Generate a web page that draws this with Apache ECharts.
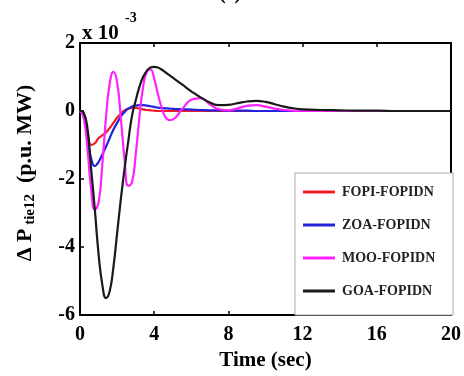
<!DOCTYPE html>
<html>
<head>
<meta charset="utf-8">
<script src="https://cdn.jsdelivr.net/npm/echarts@6/dist/echarts.min.js"></script>
<style>html,body{margin:0;padding:0;background:#fff;}#c{width:464px;height:376px;}</style>
</head>
<body>
<div id="c"></div>
<script>
// time (sec)
var time = [0,0.2,0.4,0.6,0.8,1.0,1.2,1.4,1.6,1.8,2.0,2.2,2.4,2.6,2.8,3.0,3.2,3.4,3.6,3.8,4.0,4.2,4.4,4.6,4.8,5.0,5.5,6.0,6.5,7.0,7.5,8.0,8.5,9.0,9.5,10,10.5,11,11.5,12,13,14,15,16,17,18,19,20];
// Delta P_tie12 in units of 1e-3 p.u. MW
var fopi = [0,-0.1,-0.6,-1.0,-0.95,-0.8,-0.72,-0.63,-0.5,-0.35,-0.2,-0.08,0.02,0.07,0.09,0.09,0.07,0.05,0.03,0.02,0.01,0,0,0,0,0,0,0,0,0,0,0,0,0,0,0,0,0,0,0,0,0,0,0,0,0,0,0];
var zoa = [0,-0.15,-0.8,-1.4,-1.62,-1.5,-1.28,-1.05,-0.8,-0.55,-0.35,-0.17,-0.03,0.07,0.13,0.16,0.17,0.17,0.16,0.14,0.12,0.1,0.09,0.08,0.07,0.06,0.05,0.04,0.03,0.02,0.02,0.01,0.01,0.01,0,0,0,0,0,0,0,0,0,0,0,0,0,0];
var moo = [0,-0.2,-1.1,-2.3,-2.9,-2.7,-1.6,-0.2,0.8,1.15,0.85,-0.2,-1.4,-2.2,-2.1,-1.3,-0.2,0.7,1.15,1.22,0.95,0.5,0.1,-0.18,-0.27,-0.25,0.05,0.33,0.38,0.2,0.05,0.02,0.08,0.15,0.17,0.13,0.07,0.03,0.01,0,0,0,0,0,0,0,0,0];
var goa = [0,-0.05,-0.5,-1.7,-2.9,-4.2,-5.1,-5.5,-5.3,-4.6,-3.6,-2.6,-1.7,-0.9,-0.15,0.3,0.7,1.0,1.18,1.28,1.3,1.28,1.22,1.14,1.06,0.98,0.78,0.58,0.4,0.25,0.17,0.18,0.23,0.28,0.3,0.27,0.2,0.13,0.08,0.05,0.03,0.02,0.01,0.01,0,0,0,0];
var seriesNames = ['FOPI-FOPIDN','ZOA-FOPIDN','MOO-FOPIDN','GOA-FOPIDN'];
var seriesColors = ['#ee1c25','#2222dd','#ff22ff','#1a1a1a'];
var seriesData = [fopi, zoa, moo, goa];

function pairs(v){ return time.map(function(t,i){ return [t, v[i]]; }); }

var FONT = 'Liberation Serif';
var chart = echarts.init(document.getElementById('c'));
var axisLine = {show:true, onZero:false, lineStyle:{color:'#000', width:2}};
var tick = {inside:true, length:4, lineStyle:{color:'#000', width:1.5}};
chart.setOption({
  animation:false,
  backgroundColor:'#fff',
  grid:{left:80, right:11, top:43, bottom:61},
  xAxis:[{
    type:'value', min:0, max:20, interval:4, position:'bottom',
    axisLine:axisLine, splitLine:{show:false}, axisTick:tick,
    axisLabel:{color:'#000', fontFamily:FONT, fontWeight:'bold', fontSize:20, margin:10},
    name:'Time (sec)', nameLocation:'middle', nameGap:31,
    nameTextStyle:{color:'#000', fontFamily:FONT, fontWeight:'bold', fontSize:21}
  },{
    type:'value', min:0, max:20, interval:4, position:'top',
    axisLine:axisLine, splitLine:{show:false}, axisTick:tick,
    axisLabel:{show:false}
  }],
  yAxis:[{
    type:'value', min:-6, max:2, interval:2, position:'left',
    axisLine:axisLine, splitLine:{show:false}, axisTick:tick,
    axisLabel:{color:'#000', fontFamily:FONT, fontWeight:'bold', fontSize:20, margin:5},
    name:'{a|\u0394 P}{s| tie12}{a|  (p.u. MW)}', nameLocation:'middle', nameGap:42,
    nameTextStyle:{color:'#000', fontFamily:FONT, fontWeight:'bold', padding:[0,0,0,12],
      rich:{
        a:{fontFamily:FONT, fontWeight:'bold', fontSize:22, color:'#000'},
        s:{fontFamily:FONT, fontWeight:'bold', fontSize:15, color:'#000', padding:[11,0,0,0]}
      }}
  },{
    type:'value', min:-6, max:2, interval:2, position:'right',
    axisLine:axisLine, splitLine:{show:false}, axisTick:tick,
    axisLabel:{show:false}
  }],
  legend:{
    orient:'vertical', left:303, top:185, padding:0, itemGap:19,
    itemWidth:32, itemHeight:3, icon:'rect',
    data:seriesNames,
    textStyle:{color:'#222', fontFamily:FONT, fontWeight:'bold', fontSize:14, padding:[0,0,0,2]}
  },
  graphic:[
    {type:'rect', shape:{x:295, y:173, width:158, height:142}, style:{fill:'#fff', stroke:'#aaa', lineWidth:1}, z:3},
    {type:'text', left:82, top:23, style:{text:'x 10', fontFamily:FONT, fontWeight:'bold', fontSize:21, fill:'#000'}, z:5},
    {type:'text', left:125, top:11, style:{text:'-3', fontFamily:FONT, fontWeight:'bold', fontSize:14, fill:'#000'}, z:5},
    {type:'text', left:219, top:-16, style:{text:'(c)', fontFamily:FONT, fontWeight:'bold', fontSize:20, fill:'#000'}, z:5}
  ],
  series: seriesNames.map(function(n,i){
    return {
      name:n, type:'line', data:pairs(seriesData[i]), smooth:0.5,
      showSymbol:false, symbol:'none', xAxisIndex:0, yAxisIndex:0,
      lineStyle:{color:seriesColors[i], width:2.2}, itemStyle:{color:seriesColors[i]}, z:2
    };
  })
});
</script>
</body>
</html>
